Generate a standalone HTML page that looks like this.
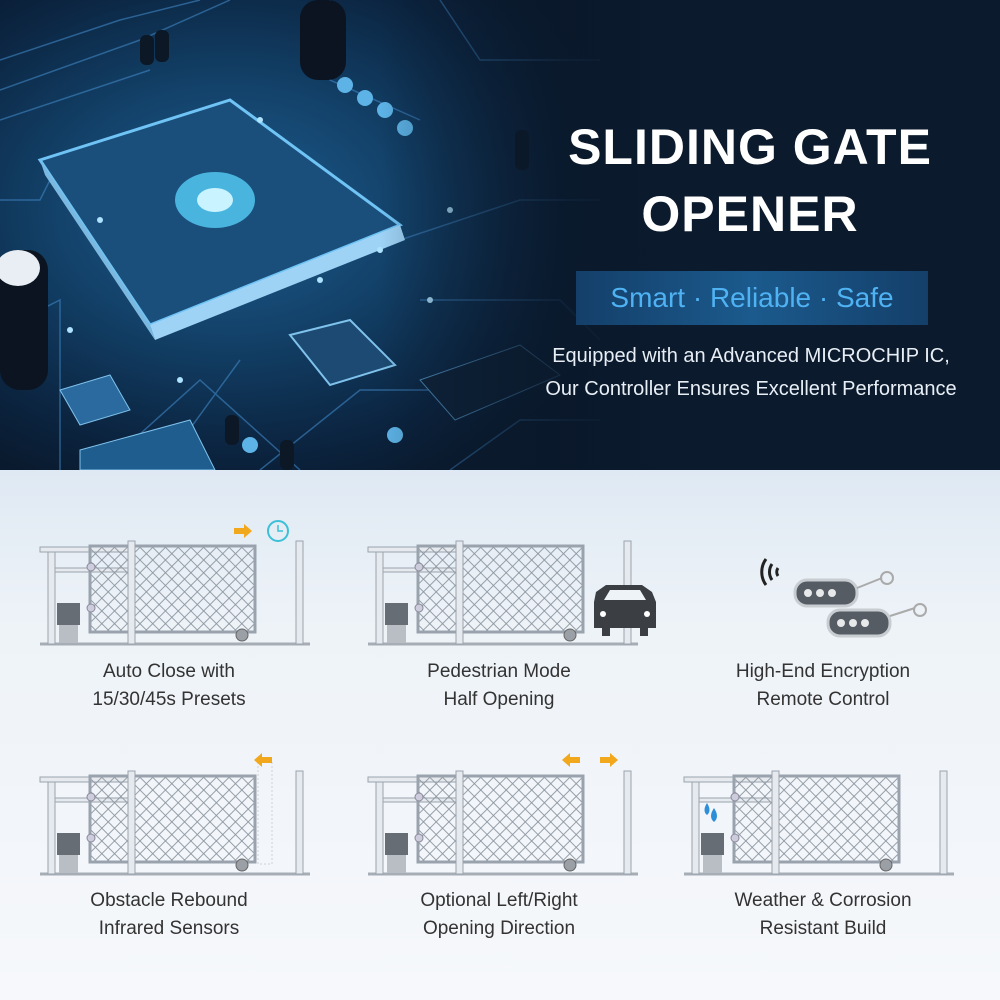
<!DOCTYPE html>
<html><head><meta charset="utf-8">
<style>
*{margin:0;padding:0}
body{width:1000px;height:1000px;overflow:hidden;font-family:"Liberation Sans",sans-serif;position:relative;background:#f2f6fa}
.top{position:absolute;left:0;top:0;width:1000px;height:470px;background:radial-gradient(ellipse 420px 300px at 230px 210px,#1d5f92 0%,#123f66 45%,#0b2440 80%,#0a1a2e 100%),#0a1a2e;overflow:hidden}
.fade{position:absolute;left:380px;top:0;width:620px;height:470px;background:linear-gradient(90deg,rgba(10,24,42,0) 0%,rgba(10,24,42,.85) 30%,#0b1a2c 50%,#0b1a2c 100%)}
.t1{position:absolute;left:540px;width:420px;text-align:center;color:#fff;font-weight:bold;font-size:50px;letter-spacing:1px}
.pill{position:absolute;left:576px;top:271px;width:352px;height:54px;background:linear-gradient(90deg,#143f6a,#1b5a8d,#143f6a);color:#4fb2f2;font-size:28px;text-align:center;line-height:54px}
.sub{position:absolute;left:501px;width:500px;text-align:center;color:#e8eef5;font-size:20px}
.bot{position:absolute;left:0;top:470px;width:1000px;height:530px;background:linear-gradient(180deg,#dfe9f3 0%,#eef3f8 30%,#f6f8fb 100%)}
.lab{position:absolute;width:300px;text-align:center;color:#333;font-size:19px;line-height:28px}
</style></head><body>
<div class="top">
<svg width="1000" height="470" style="position:absolute;left:0;top:0">
<g stroke="#3f86c4" stroke-width="1.5" fill="none" opacity=".6">
<path d="M0 60 L120 20 L200 0"/><path d="M0 90 L140 40 L230 0"/><path d="M0 120 L150 70"/><path d="M0 330 L60 300 L60 470"/><path d="M100 470 L200 380 L300 470"/><path d="M260 470 L360 390 L520 390"/><path d="M420 300 L560 300 L600 340"/><path d="M400 240 L520 200 L600 200"/><path d="M330 0 L330 80 L420 120"/><path d="M440 0 L480 60 L600 60"/><path d="M0 200 L40 200 L60 160"/><path d="M160 470 L240 360"/><path d="M450 470 L520 420 L600 420"/>
</g>
<polygon points="40,160 230,100 400,225 150,325" fill="#1a4f7c" stroke="#6fc3f5" stroke-width="3"/>
<polygon points="150,325 400,225 405,240 155,340" fill="#9fd3f5"/>
<polygon points="40,160 150,325 155,340 45,175" fill="#7bb8e0"/>
<ellipse cx="215" cy="200" rx="40" ry="28" fill="#5ad6ff" opacity=".75"/>
<ellipse cx="215" cy="200" rx="18" ry="12" fill="#c9f3ff"/>
<polygon points="290,335 350,320 395,365 330,385" fill="#1c4a72" stroke="#7fc2ec" stroke-width="2"/>
<polygon points="60,390 110,375 130,410 80,425" fill="#2b6a9f" stroke="#7fc2ec"/>
<polygon points="420,380 520,345 560,375 455,420" fill="#0e2238" stroke="#4d8ab8"/>
<polygon points="80,450 190,420 215,470 80,470" fill="#1f5d8f" stroke="#7fc2ec"/>
<rect x="0" y="250" width="48" height="140" rx="20" fill="#0b1420"/><ellipse cx="18" cy="268" rx="22" ry="18" fill="#e8eef3"/>
<rect x="300" y="0" width="46" height="80" rx="18" fill="#0b1420"/>
<g fill="#0c1826"><rect x="140" y="35" width="14" height="30" rx="6"/><rect x="155" y="30" width="14" height="32" rx="6"/><rect x="225" y="415" width="14" height="30" rx="6"/><rect x="280" y="440" width="14" height="30" rx="6"/><rect x="515" y="130" width="14" height="40" rx="6"/></g>
<g fill="#5db3e6"><circle cx="345" cy="85" r="8"/><circle cx="365" cy="98" r="8"/><circle cx="385" cy="110" r="8"/><circle cx="405" cy="128" r="8"/><circle cx="250" cy="445" r="8"/><circle cx="395" cy="435" r="8"/></g>
<g fill="#aee3ff"><circle cx="100" cy="220" r="3"/><circle cx="260" cy="120" r="3"/><circle cx="320" cy="280" r="3"/><circle cx="450" cy="210" r="3"/><circle cx="70" cy="330" r="3"/><circle cx="180" cy="380" r="3"/><circle cx="380" cy="250" r="3"/><circle cx="430" cy="300" r="3"/></g>
</svg>
<div class="fade"></div>
<div class="t1" style="top:118px">SLIDING GATE</div>
<div class="t1" style="top:185px">OPENER</div>
<div class="pill">Smart · Reliable · Safe</div>
<div class="sub" style="top:345px">Equipped with an Advanced MICROCHIP IC,</div>
<div class="sub" style="top:378px">Our Controller Ensures Excellent Performance</div>
</div>
<div class="bot"></div>
<svg width="1000" height="1000" style="position:absolute;left:0;top:0">
<defs>
<pattern id="mesh" width="9" height="9" patternUnits="userSpaceOnUse" patternTransform="rotate(45)">
<rect width="9" height="9" fill="none" stroke="#8c96a0" stroke-width=".9"/>
</pattern>
<g id="gate">
<line x1="40" y1="644" x2="310" y2="644" stroke="#a6adb5" stroke-width="3"/>
<rect x="48" y="552" width="7" height="92" fill="#e6eaee" stroke="#9aa3ad"/>
<rect x="40" y="547" width="90" height="5" fill="#e6eaee" stroke="#9aa3ad"/>
<rect x="55" y="568" width="75" height="4" fill="#e6eaee" stroke="#9aa3ad"/>
<rect x="90" y="546" width="165" height="86" fill="url(#mesh)" stroke="#9aa3ad" stroke-width="3"/>
<rect x="128" y="541" width="7" height="103" fill="#e6eaee" stroke="#9aa3ad"/>
<rect x="296" y="541" width="7" height="103" fill="#e6eaee" stroke="#9aa3ad"/>
<circle cx="91" cy="567" r="4" fill="#ccd" stroke="#889"/><circle cx="91" cy="608" r="4" fill="#ccd" stroke="#889"/>
<circle cx="242" cy="635" r="6" fill="#9aa0a6" stroke="#666"/>
<rect x="57" y="603" width="23" height="22" fill="#666d75"/><rect x="59" y="625" width="19" height="18" fill="#b8bec4"/>
</g>
</defs>
<use href="#gate"/>
<use href="#gate" x="328"/>
<use href="#gate" y="230"/>
<use href="#gate" x="328" y="230"/>
<use href="#gate" x="644" y="230"/>
<polygon points="234,528 244,528 244,524 252,531 244,538 244,534 234,534" fill="#f2a81d"/>
<circle cx="278" cy="531" r="10" fill="none" stroke="#3cc0d8" stroke-width="2"/><path d="M278 525 V531 H283" stroke="#3cc0d8" fill="none" stroke-width="1.5"/>
<path d="M596 592 L606 585 H642 L652 592 L656 602 V628 H648 V636 H640 V628 H610 V636 H602 V628 H594 V602 Z" fill="#3b3f44"/>
<path d="M604 600 L610 590 H640 L646 600 Z" fill="#eef3f8"/><circle cx="603" cy="614" r="3" fill="#fff"/><circle cx="647" cy="614" r="3" fill="#fff"/>
<path d="M772 580 a14 14 0 0 1 0 -16 M766 585 a22 22 0 0 1 0 -26 M778 576 a7 7 0 0 1 0 -8" stroke="#222" stroke-width="3" fill="none"/>
<rect x="795" y="580" width="62" height="26" rx="12" fill="#555c64" stroke="#c8cdd2" stroke-width="3"/>
<rect x="828" y="610" width="62" height="26" rx="12" fill="#555c64" stroke="#c8cdd2" stroke-width="3"/>
<g fill="#e6e8ea"><circle cx="808" cy="593" r="4"/><circle cx="820" cy="593" r="4"/><circle cx="832" cy="593" r="4"/><circle cx="841" cy="623" r="4"/><circle cx="853" cy="623" r="4"/><circle cx="865" cy="623" r="4"/></g>
<path d="M857 588 L882 578 M890 616 L915 608" stroke="#aaa" stroke-width="2"/><circle cx="887" cy="578" r="6" fill="none" stroke="#aaa" stroke-width="2"/><circle cx="920" cy="610" r="6" fill="none" stroke="#aaa" stroke-width="2"/>
<rect x="258" y="760" width="14" height="104" fill="none" stroke="#ccd2d8" stroke-dasharray="2 2"/>
<polygon points="272,757 262,757 262,753 254,760 262,767 262,763 272,763" fill="#f2a81d"/>
<polygon points="580,757 570,757 570,753 562,760 570,767 570,763 580,763" fill="#f2a81d"/>
<polygon points="600,757 610,757 610,753 618,760 610,767 610,763 600,763" fill="#f2a81d"/>
<path d="M707 803 q5 8 0 12 q-5 -4 0 -12Z M714 808 q6 9 0 14 q-6 -5 0 -14Z" fill="#2d8fd8"/>
</svg>
<div class="lab" style="left:19px;top:658px">Auto Close with<br>15/30/45s Presets</div>
<div class="lab" style="left:349px;top:658px">Pedestrian Mode<br>Half Opening</div>
<div class="lab" style="left:673px;top:658px">High-End Encryption<br>Remote Control</div>
<div class="lab" style="left:19px;top:887px">Obstacle Rebound<br>Infrared Sensors</div>
<div class="lab" style="left:349px;top:887px">Optional Left/Right<br>Opening Direction</div>
<div class="lab" style="left:673px;top:887px">Weather &amp; Corrosion<br>Resistant Build</div>
</body></html>
